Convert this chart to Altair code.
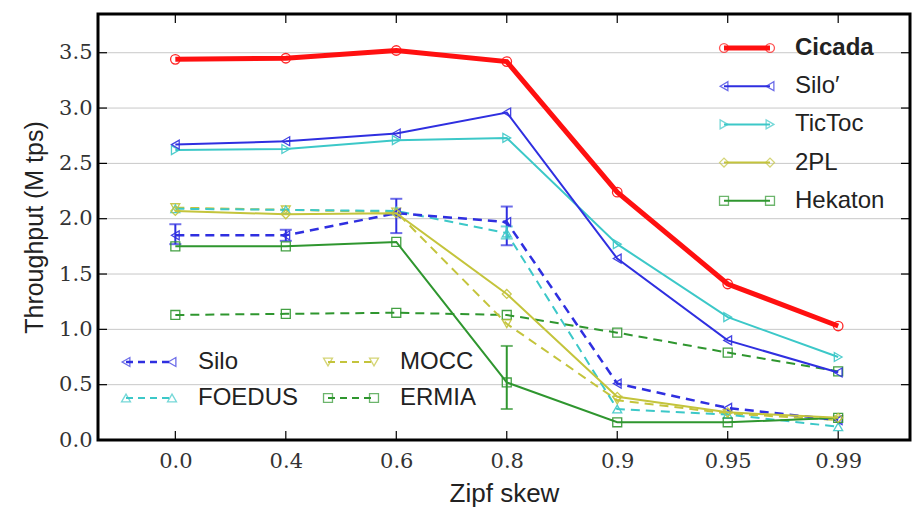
import altair as alt
import pandas as pd

# ---------------- data ----------------
x_labels = ["0.0", "0.4", "0.6", "0.8", "0.9", "0.95", "0.99"]
y_ticks = [0.0, 0.5, 1.0, 1.5, 2.0, 2.5, 3.0, 3.5]

cicada     = [3.44, 3.45, 3.52, 3.42, 2.24, 1.41, 1.03]
silo_prime = [2.67, 2.70, 2.77, 2.96, 1.64, 0.90, 0.61]
tictoc     = [2.62, 2.63, 2.71, 2.73, 1.77, 1.11, 0.75]
twopl      = [2.07, 2.04, 2.05, 1.32, 0.39, 0.25, 0.20]
hekaton    = [1.75, 1.75, 1.79, 0.52, 0.16, 0.16, 0.20]
silo       = [1.85, 1.85, 2.05, 1.97, 0.51, 0.29, 0.18]
foedus     = [2.09, 2.08, 2.07, 1.87, 0.28, 0.23, 0.12]
mocc       = [2.10, 2.08, 2.06, 1.05, 0.36, 0.24, 0.18]
ermia      = [1.13, 1.14, 1.15, 1.13, 0.97, 0.79, 0.62]

err_series = ["Silo", "Silo", "Silo", "Silo", "FOEDUS", "Hekaton"]
err_idx    = [0, 1, 2, 3, 3, 3]
err_lo     = [1.77, 1.80, 1.87, 1.76, 1.82, 0.28]
err_hi     = [1.95, 1.90, 2.18, 2.11, 1.93, 0.85]

# ---------------- styles ----------------
RED, BLUE, CYAN, YEL, GRN = "#ff1010", "#2f2fe0", "#3cc8c8", "#c4c43c", "#2f962f"
DASH = [9, 6]
series = [
    # name, values, color, width, shape, dash
    ("ERMIA", ermia, GRN, 2, "square", DASH),
    ("MOCC", mocc, YEL, 2, "triangle-down", DASH),
    ("FOEDUS", foedus, CYAN, 2, "triangle-up", DASH),
    ("Silo", silo, BLUE, 2.5, "triangle-left", DASH),
    ("Hekaton", hekaton, GRN, 2, "square", None),
    ("2PL", twopl, YEL, 2, "diamond", None),
    ("TicToc", tictoc, CYAN, 2, "triangle-right", None),
    ("Silo\u2032", silo_prime, BLUE, 2, "triangle-left", None),
    ("Cicada", cicada, RED, 5, "circle", None),
]
style = {s[0]: s for s in series}

W, H = 812, 426
xs = alt.Scale(domain=[-0.7, 6.65], nice=False, zero=False)
ys = alt.Scale(domain=[0, 3.85], nice=False, zero=True)
SERIF = "DejaVu Serif"
SANS = "Liberation Sans"

lab_expr = "[" + ",".join("'%s'" % l for l in x_labels) + "][datum.value]"

ax_df = pd.DataFrame({"idx": list(range(len(x_labels)))})
y_df = pd.DataFrame({"v": y_ticks})

# axis / grid layer
axes_layer = alt.Chart(y_df).mark_rule(color="#c8c8c8", strokeWidth=1).encode(
    y=alt.Y("v:Q", scale=ys,
            axis=alt.Axis(values=y_ticks, format=".1f", grid=False, ticks=False,
                          domain=False, labelFont=SERIF, labelFontSize=21,
                          labelColor="#333", labelPadding=6,
                          title="Throughput (M tps)", titleFont=SANS,
                          titleFontSize=25, titleFontWeight="normal",
                          titleColor="#222", titlePadding=11)),
    x=alt.value(0), x2=alt.value(W),
)
xaxis_layer = alt.Chart(ax_df).mark_rule(color="black", strokeWidth=1.2).encode(
    x=alt.X("idx:Q", scale=xs,
            axis=alt.Axis(values=list(range(len(x_labels))), labelExpr=lab_expr,
                          grid=False, ticks=False, domain=False, labelFont=SERIF,
                          labelFontSize=21, labelColor="#333", labelPadding=10,
                          title="Zipf skew", titleFont=SANS, titleFontSize=26,
                          titleFontWeight="normal", titleColor="#222",
                          titlePadding=9)),
    y=alt.value(H - 9), y2=alt.value(H),
)
xtop_layer = alt.Chart(ax_df).mark_rule(color="black", strokeWidth=1.2).encode(
    x=alt.X("idx:Q", scale=xs), y=alt.value(0), y2=alt.value(9))
yright_layer = alt.Chart(y_df).mark_rule(color="black", strokeWidth=1.2).encode(
    y=alt.Y("v:Q", scale=ys), x=alt.value(W - 9), x2=alt.value(W))
yleft_layer = alt.Chart(y_df).mark_rule(color="black", strokeWidth=1.2).encode(
    y=alt.Y("v:Q", scale=ys), x=alt.value(0), x2=alt.value(9))

layers = [axes_layer, xaxis_layer, xtop_layer, yright_layer, yleft_layer]

# error bars
err_df = pd.DataFrame({"series": err_series, "idx": err_idx, "lo": err_lo, "hi": err_hi})
for name in err_df["series"].unique():
    d = err_df[err_df["series"] == name]
    col = style[name][2]
    layers.append(alt.Chart(d).mark_rule(color=col, strokeWidth=2).encode(
        x=alt.X("idx:Q", scale=xs), y=alt.Y("lo:Q", scale=ys), y2="hi:Q"))
    for end in ["lo", "hi"]:
        layers.append(alt.Chart(d).mark_tick(color=col, orient="horizontal",
                                             size=12, thickness=2).encode(
            x=alt.X("idx:Q", scale=xs), y=alt.Y(end + ":Q", scale=ys)))

# series lines and markers
for name, vals, col, sw, shape, dash in series:
    d = pd.DataFrame({"idx": list(range(len(vals))), "val": vals})
    lkw = dict(color=col, strokeWidth=sw)
    if dash:
        lkw["strokeDash"] = dash
    layers.append(alt.Chart(d).mark_line(**lkw).encode(
        x=alt.X("idx:Q", scale=xs), y=alt.Y("val:Q", scale=ys)))
    layers.append(alt.Chart(d).mark_point(shape=shape, filled=False, color=col,
                                          size=90 if name == "Cicada" else 80,
                                          strokeWidth=1.3, opacity=0.9).encode(
        x=alt.X("idx:Q", scale=xs), y=alt.Y("val:Q", scale=ys)))

# legends (positions in pixels inside the plot area)
one = pd.DataFrame({"a": [0]})


def legend_entry(name, x0, x1, xt, yc):
    _, _, col, sw, shape, dash = style[name]
    out = []
    rkw = dict(color=col, strokeWidth=sw)
    if dash:
        rkw["strokeDash"] = [7, 5]
    out.append(alt.Chart(one).mark_rule(**rkw).encode(
        x=alt.value(x0), x2=alt.value(x1), y=alt.value(yc)))
    for xp in (x0, x1):
        out.append(alt.Chart(one).mark_point(shape=shape, filled=False, color=col,
                                             size=80, strokeWidth=1.3).encode(
            x=alt.value(xp), y=alt.value(yc)))
    out.append(alt.Chart(one).mark_text(
        text=name, align="left", baseline="middle", font=SANS, fontSize=24,
        color="#222", fontWeight="bold" if name == "Cicada" else "normal").encode(
        x=alt.value(xt), y=alt.value(yc)))
    return out


for i, name in enumerate(["Cicada", "Silo\u2032", "TicToc", "2PL", "Hekaton"]):
    layers += legend_entry(name, 626, 672, 697, 34 + i * 38.2)

for name, col_i, row_i in [("Silo", 0, 0), ("FOEDUS", 0, 1), ("MOCC", 1, 0), ("ERMIA", 1, 1)]:
    x0 = 28 + col_i * 202
    layers += legend_entry(name, x0, x0 + 46, x0 + 72, 348 + row_i * 36)

# plot frame on top
layers.append(alt.Chart(one).mark_rect(fill=None, fillOpacity=0, stroke="black",
                                       strokeWidth=3).encode(
    x=alt.value(0), x2=alt.value(W), y=alt.value(0), y2=alt.value(H)))

chart = alt.layer(*layers).properties(
    width=W, height=H,
    padding={"left": 98, "top": 14, "right": 2, "bottom": 73},
    autosize=alt.AutoSizeParams(type="none"),
).configure(
    background="white",
    view=alt.ViewConfig(stroke=None),
)

chart.save("out.html", embed_options={"renderer": "svg", "actions": False})
